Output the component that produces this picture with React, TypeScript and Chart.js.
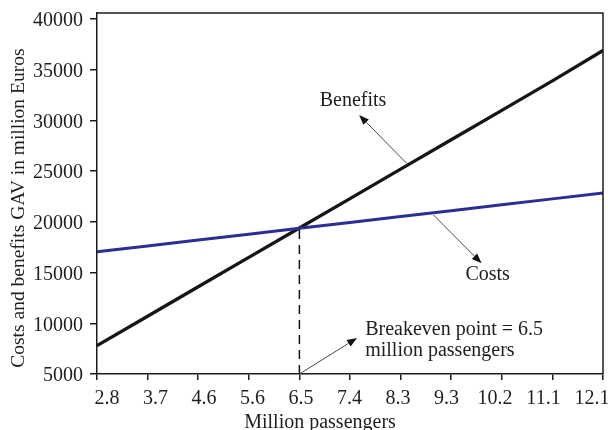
import React, { useEffect, useRef } from 'react';
import { Chart, registerables } from 'chart.js';

Chart.register(...registerables);

// ---- data ----
const categories = ['2.8', '3.7', '4.6', '5.6', '6.5', '7.4', '8.3', '9.3', '10.2', '11.1', '12.1'];
const benefits = [7800, 10700, 13600, 16500, 19400, 22300, 25200, 28100, 31000, 33900, 36900];
const costs = [17050, 17630, 18210, 18790, 19370, 19950, 20530, 21110, 21690, 22270, 22850];
const breakevenCategory = '6.5';
const breakevenValue = 19370;
const yTicks = [5000, 10000, 15000, 20000, 25000, 30000, 35000, 40000];
const yMin = 5000;
const yMax = 40600;

const NBSP = '\u00A0';
const xTitle = 'Million passengers' + NBSP.repeat(12);
const yTitle = 'Costs and benefits GAV in million Euros' + NBSP.repeat(6);

// annotations in data coordinates: [category index, value]
const noteBenefits = { lines: ['Benefits'], at: [5.06, 31920], align: 'center', tail: [6.12, 25775], tip: [5.18, 30540] };
const noteCosts = { lines: ['Costs'], at: [7.72, 14760], align: 'center', tail: [6.65, 20680], tip: [7.6, 15915] };
const noteBreakeven = {
  lines: ['Breakeven point = 6.5', 'million passengers'],
  at: [5.3, 9340],
  lineStep: 2070,
  align: 'left',
  tail: [4, 5000],
  tip: [5.14, 8550],
};
const notes = [noteBenefits, noteCosts, noteBreakeven];

// tick labels sit slightly inside the outer ticks in the reference
const LABEL_INSET_LEFT = 10;
const LABEL_INSET_RIGHT = 11;
const Y_LABEL_NUDGE = 2;

const FONT = 'Liberation Serif';
const AXIS = '#1c1c1c';
const TEXT = '#1e1e1e';

const adjusted = new WeakSet<object>();

const overlay = {
  id: 'overlay',
  beforeDraw(chart: any) {
    const xs = chart.scales.x;
    const ys = chart.scales.y;
    const xItems = xs.getLabelItems(chart.chartArea);
    if (xItems && !adjusted.has(xItems)) {
      const w = xs.right - xs.left;
      const k = (w - LABEL_INSET_LEFT - LABEL_INSET_RIGHT) / w;
      for (const it of xItems) {
        const tr = it.options.translation;
        tr[0] = xs.left + LABEL_INSET_LEFT + (tr[0] - xs.left) * k;
      }
      adjusted.add(xItems);
    }
    const yItems = ys.getLabelItems(chart.chartArea);
    if (yItems && !adjusted.has(yItems)) {
      for (const it of yItems) it.options.translation[1] += Y_LABEL_NUDGE;
      adjusted.add(yItems);
    }
  },
  afterDatasetsDraw(chart: any) {
    const { ctx, chartArea: a, scales } = chart;
    const xs = scales.x;
    const ys = scales.y;
    ctx.save();
    // top and right frame
    ctx.strokeStyle = AXIS;
    ctx.lineWidth = 1.5;
    ctx.beginPath();
    ctx.moveTo(a.left, a.top);
    ctx.lineTo(a.right, a.top);
    ctx.lineTo(a.right, a.bottom);
    ctx.stroke();

    for (const n of notes as any[]) {
      const x1 = xs.getPixelForValue(n.tail[0]);
      const y1 = ys.getPixelForValue(n.tail[1]);
      const x2 = xs.getPixelForValue(n.tip[0]);
      const y2 = ys.getPixelForValue(n.tip[1]);
      const ang = Math.atan2(y2 - y1, x2 - x1);
      const hl = 10;
      const hw = 3.8;
      const bx = x2 - hl * Math.cos(ang);
      const by = y2 - hl * Math.sin(ang);
      ctx.strokeStyle = '#4a4a4a';
      ctx.lineWidth = 1;
      ctx.beginPath();
      ctx.moveTo(x1, y1);
      ctx.lineTo(bx, by);
      ctx.stroke();
      ctx.fillStyle = '#111';
      ctx.beginPath();
      ctx.moveTo(x2, y2);
      ctx.lineTo(bx + hw * Math.sin(ang), by - hw * Math.cos(ang));
      ctx.lineTo(bx - hw * Math.sin(ang), by + hw * Math.cos(ang));
      ctx.closePath();
      ctx.fill();

      ctx.fillStyle = TEXT;
      ctx.font = `20px "${FONT}"`;
      ctx.textAlign = n.align;
      ctx.textBaseline = 'middle';
      const tx = xs.getPixelForValue(n.at[0]);
      n.lines.forEach((line: string, i: number) => {
        const ty = ys.getPixelForValue(n.at[1] - i * (n.lineStep || 0));
        ctx.fillText(line, tx, ty);
      });
    }
    ctx.restore();
  },
};

export default function App() {
  const ref = useRef<HTMLCanvasElement | null>(null);

  useEffect(() => {
    if (!ref.current) return;
    const chart = new Chart(ref.current, {
      type: 'line',
      data: {
        labels: categories,
        datasets: [
          {
            label: 'Costs',
            data: costs,
            borderColor: '#2b2f93',
            borderWidth: 3,
            pointRadius: 0,
            tension: 0,
            fill: false,
          },
          {
            label: 'Benefits',
            data: benefits,
            borderColor: '#161616',
            borderWidth: 3.3,
            pointRadius: 0,
            tension: 0,
            fill: false,
          },
          {
            label: 'Breakeven',
            data: [
              { x: breakevenCategory, y: yMin },
              { x: breakevenCategory, y: breakevenValue },
            ] as any,
            borderColor: '#111',
            borderWidth: 1.5,
            borderDash: [9, 6],
            pointRadius: 0,
            fill: false,
          },
        ],
      },
      options: {
        animation: false,
        responsive: false,
        events: [],
        layout: { padding: { top: 13, right: 5, bottom: 0, left: 0 } },
        plugins: { legend: { display: false }, tooltip: { enabled: false } },
        scales: {
          x: {
            type: 'category',
            offset: false,
            grid: { drawOnChartArea: false, drawTicks: true, tickLength: 6, color: AXIS, lineWidth: 1.5 },
            border: { display: true, color: AXIS, width: 1.5 },
            ticks: {
              color: TEXT,
              font: { family: FONT, size: 20 },
              padding: 7,
              maxRotation: 0,
              autoSkip: false,
              align: 'center',
            },
            title: {
              display: true,
              text: xTitle,
              color: TEXT,
              font: { family: FONT, size: 20 },
              padding: { top: 0, bottom: -5 },
            },
            afterFit: (s: any) => {
              s.height = 56;
              s.paddingLeft = 0;
              s.paddingRight = 0;
            },
          },
          y: {
            type: 'linear',
            min: yMin,
            max: yMax,
            grid: { drawOnChartArea: false, drawTicks: true, tickLength: 7, color: AXIS, lineWidth: 1.5 },
            border: { display: true, color: AXIS, width: 1.5 },
            afterBuildTicks: (s: any) => {
              s.ticks = yTicks.map((v) => ({ value: v }));
            },
            ticks: {
              color: TEXT,
              font: { family: FONT, size: 20 },
              padding: 7,
              callback: (v: any) => String(v),
            },
            title: {
              display: true,
              text: yTitle,
              color: TEXT,
              font: { family: FONT, size: 19.5 },
              padding: { top: 7, bottom: 0 },
            },
            afterFit: (s: any) => {
              s.width = 97;
              s.paddingTop = 0;
              s.paddingBottom = 0;
            },
          },
        },
      },
      plugins: [overlay],
    } as any);
    return () => chart.destroy();
  }, []);

  return (
    <div style={{ position: 'absolute', left: 0, top: 0, width: 608, height: 430, background: '#fff' }}>
      <canvas ref={ref} width={608} height={430} style={{ display: 'block', width: 608, height: 430 }} />
    </div>
  );
}
